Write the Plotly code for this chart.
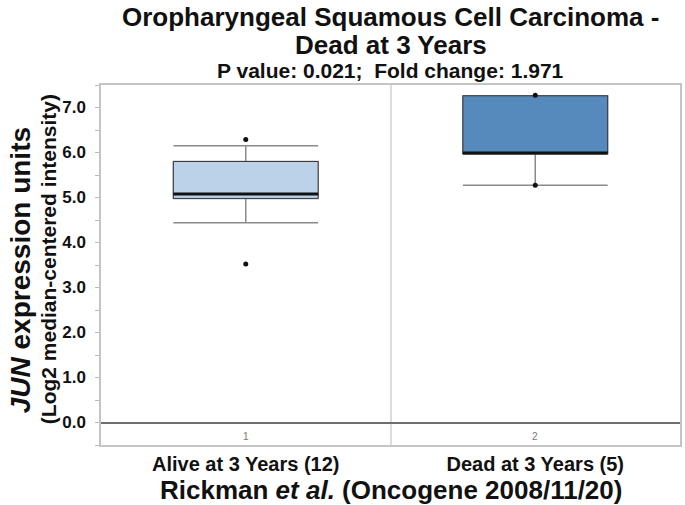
import plotly.graph_objects as go

# ---- data ----
groups = ["Alive at 3 Years (12)", "Dead at 3 Years (5)"]
group_ids = ["1", "2"]
positions = [1, 2]
q1 = [4.98, 5.97]
median = [5.08, 5.99]
q3 = [5.80, 7.26]
lower_whisker = [4.44, 5.27]
upper_whisker = [6.15, 7.26]
minimum = [3.52, 5.27]
maximum = [6.29, 7.27]
fill_colors = ["#bcd2e8", "#5689bc"]
y_ticks = [0, 1, 2, 3, 4, 5, 6, 7]

BOX_W = 0.5
FONT = "Liberation Sans, Arial, sans-serif"

fig = go.Figure()
for i, p in enumerate(positions):
    # whiskers + caps (gray)
    fig.add_trace(go.Box(
        x=[p], q1=[q1[i]], median=[median[i]], q3=[q3[i]],
        lowerfence=[lower_whisker[i]], upperfence=[upper_whisker[i]],
        width=BOX_W, whiskerwidth=1, fillcolor=fill_colors[i],
        line=dict(color="#8a8a8a", width=1.5), boxpoints=False,
        hoverinfo="skip", showlegend=False))
    # box outline (dark)
    fig.add_trace(go.Box(
        x=[p], q1=[q1[i]], median=[median[i]], q3=[q3[i]],
        lowerfence=[q1[i]], upperfence=[q3[i]],
        width=BOX_W, whiskerwidth=0, fillcolor=fill_colors[i],
        line=dict(color="#3a3a3a", width=1), boxpoints=False,
        hoverinfo="skip", showlegend=False))
    # median line (thick black)
    fig.add_trace(go.Scatter(
        x=[p - BOX_W / 2, p + BOX_W / 2], y=[median[i], median[i]],
        mode="lines", line=dict(color="#111", width=3),
        hoverinfo="skip", showlegend=False))
    # min / max dots
    fig.add_trace(go.Scatter(
        x=[p, p], y=[minimum[i], maximum[i]], mode="markers",
        marker=dict(color="#111", size=5),
        hoverinfo="skip", showlegend=False))

def py(ypx):
    return (445 - ypx) / 360.0

def px(xpx):
    return (xpx - 101) / 581.0

annotations = [
    dict(text="Oropharyngeal Squamous Cell Carcinoma -", x=0.5, y=py(17),
         font=dict(size=26)),
    dict(text="Dead at 3 Years", x=0.5, y=py(45), font=dict(size=26)),
    dict(text="P value: 0.021;  Fold change: 1.971", x=0.5, y=py(71),
         font=dict(size=21)),
    dict(text="<i>JUN</i> expression units", x=px(20), y=py(270),
         textangle=-90, font=dict(size=28)),
    dict(text="(Log2 median-centered intensity)", x=px(48), y=py(259),
         textangle=-90, font=dict(size=21)),
    dict(text="Rickman <i>et al.</i> (Oncogene 2008/11/20)", x=0.5, y=py(490),
         font=dict(size=26)),
]
for a in annotations:
    a.update(xref="paper", yref="paper", showarrow=False,
             xanchor="center", yanchor="middle")
    a["font"].update(family=FONT, color="#111", weight=700)

for p, gid in zip(positions, group_ids):
    annotations.append(dict(text=gid, x=p, y=-0.3, xref="x", yref="y",
                            showarrow=False, font=dict(family=FONT, size=10, color="#777"),
                            xanchor="center", yanchor="middle"))

fig.update_layout(
    width=685, height=505,
    margin=dict(l=101, r=3, t=85, b=60),
    paper_bgcolor="white", plot_bgcolor="white",
    boxmode="overlay", showlegend=False,
    annotations=annotations,
    xaxis=dict(
        range=[0.5, 2.5], tickvals=positions, ticktext=groups,
        tickfont=dict(family=FONT, size=20, color="#111", weight=700),
        ticks="", showgrid=False, zeroline=False,
        showline=True, linecolor="#c4c4c4", linewidth=1.5, mirror=True,
        ticklabelstandoff=0,
        minor=dict(tickvals=[1.5], showgrid=True, gridcolor="#dcdcdc", gridwidth=1.5),
    ),
    yaxis=dict(
        range=[-0.5, 7.5], tickvals=y_ticks, tickformat=".1f",
        tickfont=dict(family=FONT, size=17, color="#111", weight=700),
        ticks="outside", ticklen=4, tickcolor="#bbbbbb",
        minor=dict(dtick=0.5, ticks="outside", ticklen=4, tickcolor="#bbbbbb"),
        showgrid=False, zeroline=True, zerolinecolor="#6e6e6e", zerolinewidth=1.5,
        showline=True, linecolor="#c4c4c4", linewidth=1.5, mirror=True,
        ticklabelstandoff=6,
    ),
    yaxis2=dict(
        range=[-0.5, 7.5], overlaying="y", side="right", anchor="x",
        dtick=0.5, tick0=0, ticks="inside", ticklen=3, tickcolor="#bbbbbb",
        showticklabels=False, showgrid=False, zeroline=False,
    ),
)

fig.write_html("out.html", config={"displayModeBar": False},
               post_script="document.body.style.margin='0';document.body.style.overflow='hidden';")
